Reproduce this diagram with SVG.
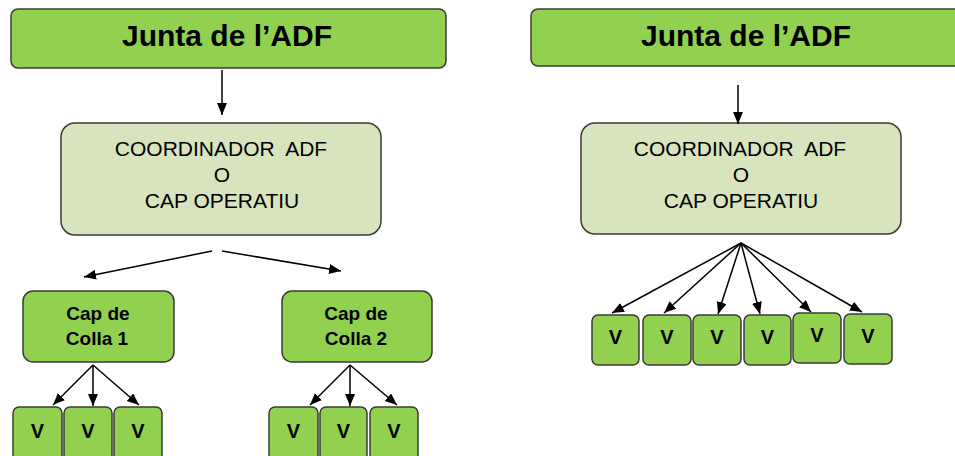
<svg xmlns="http://www.w3.org/2000/svg" width="955" height="456" viewBox="0 0 955 456">
<defs>
<marker id="ah" markerUnits="userSpaceOnUse" markerWidth="13" markerHeight="11" refX="12" refY="5" orient="auto">
<path d="M0,0 L12,5 L0,10 z" fill="#000"/>
</marker>
<style>
.g{fill:#92D050;stroke:#3a3a3a;stroke-width:1.5}
.c{fill:#D7E4BD;stroke:#3a3a3a;stroke-width:1.5}
.t{font-family:"Liberation Sans",Arial,sans-serif;font-weight:bold;font-size:30px;fill:#000;text-anchor:middle}
.r{font-family:"Liberation Sans",Arial,sans-serif;font-size:21px;fill:#000;text-anchor:middle}
.b{font-family:"Liberation Sans",Arial,sans-serif;font-weight:bold;font-size:19px;fill:#000;text-anchor:middle}
.v{font-family:"Liberation Sans",Arial,sans-serif;font-weight:bold;font-size:20px;fill:#000;text-anchor:middle}
.a{stroke:#000;stroke-width:1.5;fill:none;marker-end:url(#ah)}
</style>
</defs>
<g id="junta1"><rect class="g" x="11" y="9" width="435" height="59" rx="7"/><text class="t" x="227" y="46">Junta de l’ADF</text></g>
<g id="junta2"><rect class="g" x="531" y="9" width="432" height="57" rx="7"/><text class="t" x="746" y="46">Junta de l’ADF</text></g>
<g id="coord1"><rect class="c" x="61" y="123" width="320" height="112" rx="14"/>
<text class="r" x="221" y="156">COORDINADOR&#160; ADF</text><text class="r" x="222" y="182">O</text><text class="r" x="222" y="208">CAP OPERATIU</text></g>
<g id="coord2"><rect class="c" x="581" y="123" width="320" height="111" rx="14"/>
<text class="r" x="740" y="156">COORDINADOR&#160; ADF</text><text class="r" x="741" y="182">O</text><text class="r" x="741" y="208">CAP OPERATIU</text></g>
<g id="colla1"><rect class="g" x="23" y="291" width="151" height="71" rx="10"/><text class="b" x="98" y="320">Cap de</text><text class="b" x="97" y="345">Colla 1</text></g>
<g id="colla2"><rect class="g" x="282" y="291" width="150" height="71" rx="10"/><text class="b" x="356" y="320">Cap de</text><text class="b" x="356" y="345">Colla 2</text></g>
<g id="v1a"><rect class="g" x="13" y="407" width="49" height="54" rx="6"/><text class="v" x="37.5" y="438">V</text></g>
<g id="v1b"><rect class="g" x="64" y="407" width="48" height="54" rx="6"/><text class="v" x="88" y="438">V</text></g>
<g id="v1c"><rect class="g" x="114" y="407" width="48" height="54" rx="6"/><text class="v" x="138" y="438">V</text></g>
<g id="v2a"><rect class="g" x="269" y="407" width="49" height="54" rx="6"/><text class="v" x="293.5" y="438">V</text></g>
<g id="v2b"><rect class="g" x="320" y="407" width="47" height="54" rx="6"/><text class="v" x="343.5" y="438">V</text></g>
<g id="v2c"><rect class="g" x="370" y="407" width="48" height="54" rx="6"/><text class="v" x="394" y="438">V</text></g>
<g id="v3a"><rect class="g" x="592" y="315" width="47" height="50" rx="6"/><text class="v" x="615.5" y="344">V</text></g>
<g id="v3b"><rect class="g" x="643" y="315" width="48" height="50" rx="6"/><text class="v" x="667" y="344">V</text></g>
<g id="v3c"><rect class="g" x="693" y="315" width="48" height="50" rx="6"/><text class="v" x="717" y="344">V</text></g>
<g id="v3d"><rect class="g" x="744" y="315" width="47" height="50" rx="6"/><text class="v" x="767.5" y="344">V</text></g>
<g id="v3e"><rect class="g" x="793" y="313" width="48" height="50" rx="6"/><text class="v" x="817" y="342">V</text></g>
<g id="v3f"><rect class="g" x="844" y="314" width="48" height="50" rx="6"/><text class="v" x="868" y="343">V</text></g>
<g id="connectors">
<line class="a" x1="222" y1="70" x2="222" y2="115"/>
<line class="a" x1="738" y1="85" x2="738" y2="124"/>
<line class="a" x1="212" y1="251" x2="84" y2="277"/>
<line class="a" x1="222" y1="251" x2="341" y2="271"/>
<line class="a" x1="93" y1="365" x2="53" y2="405"/>
<line class="a" x1="93" y1="365" x2="93" y2="406"/>
<line class="a" x1="93" y1="365" x2="139" y2="405"/>
<line class="a" x1="350" y1="365" x2="310" y2="405"/>
<line class="a" x1="350" y1="365" x2="350" y2="406"/>
<line class="a" x1="350" y1="365" x2="397" y2="405"/>
<line class="a" x1="741" y1="243" x2="612" y2="313"/>
<line class="a" x1="741" y1="243" x2="664" y2="313"/>
<line class="a" x1="741" y1="243" x2="718" y2="314"/>
<line class="a" x1="741" y1="243" x2="760" y2="314"/>
<line class="a" x1="741" y1="243" x2="811" y2="312"/>
<line class="a" x1="741" y1="243" x2="862" y2="312"/>
</g>
</svg>
